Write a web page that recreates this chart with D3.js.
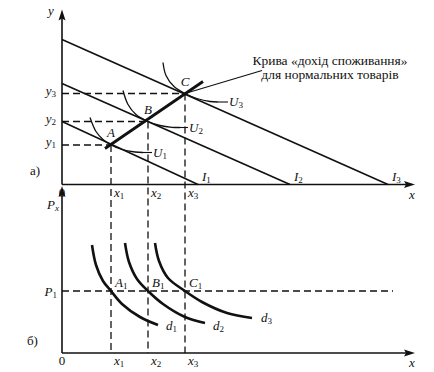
<!DOCTYPE html>
<html><head><meta charset="utf-8">
<script src="https://cdn.jsdelivr.net/npm/d3@7"></script>
<style>body{margin:0;background:#fff}svg{display:block}text{font-family:"Liberation Serif","Times New Roman","DejaVu Serif",serif}</style>
</head><body>
<svg id="c" width="434" height="372"></svg>
<script>
// ---- data (arbitrary schematic units) ----
const quantities = [4.9, 8.6, 12.3];          // x1, x2, x3
const quantitySubs = ["1", "2", "3"];
const incomeLevels = [3.95, 6.3, 9.1];        // y1, y2, y3
const budgetYIntercepts = [6.3, 10.1, 14.5];  // I1, I2, I3 on y-axis
const budgetXIntercepts = [13.6, 22.8, 32.6]; // I1, I2, I3 on x-axis
const optimumNames = ["A", "B", "C"];
const iccLine = [[4.3, 3.6], [14.1, 10.3]];
const iccNote = ["Крива «дохід споживання»", "для нормальних товарів"];
const iccNoteEnd = [20.0, 11.4];
const indiff1 = [[2.8,6.7],[3.4,5.3],[4.1,4.5],[4.9,3.95],[6.0,3.5],[7.3,3.25],[8.1,3.2]];
const indiff2 = [[6.1,9.4],[6.6,8.0],[7.4,7.0],[8.6,6.3],[9.8,5.9],[11.0,5.72],[11.8,5.7]];
const indiff3 = [[10.1,12.2],[10.4,10.9],[11.2,9.8],[12.3,9.1],[13.5,8.6],[14.8,8.3],[15.6,8.25]];
const indiffLeaderEnd = [9.0, 12.6, 16.6];
const price1 = 6.2;
const priceLineEnd = 33.1;
const demand1 = [[3.0,10.8],[3.4,8.8],[4.1,7.2],[4.9,6.2],[6.0,4.9],[7.8,3.6],[9.6,2.8]];
const demand2 = [[6.3,11.0],[6.7,9.1],[7.5,7.4],[8.6,6.2],[10.1,4.9],[12.3,3.6],[14.3,3.0]];
const demand3 = [[9.3,11.0],[9.7,9.2],[10.6,7.5],[12.3,6.2],[14.0,5.1],[16.5,4.0],[19.0,3.5]];
const demandLabelPos = [[10.4,2.6],[15.1,2.6],[19.9,3.4]];

// ---- scales ----
const x = d3.scaleLinear().domain([0, 35]).range([62, 412]);
const yT = d3.scaleLinear().domain([0, 17.2]).range([184.5, 12.5]);
const yB = d3.scaleLinear().domain([0, 15]).range([353, 203]);
const xMax = 35.3, yTMax = 17.5, yBMax = 16.7;

const svg = d3.select("#c");
const ink = "#111";

function line(g, x1, y1, x2, y2, w, dash) {
  const l = g.append("line").attr("x1", x1).attr("y1", y1).attr("x2", x2).attr("y2", y2)
    .attr("stroke", ink).attr("stroke-width", w);
  if (dash) l.attr("stroke-dasharray", dash);
  return l;
}
function label(px, py, main, sub, opts = {}) {
  const t = svg.append("text").attr("x", px).attr("y", py)
    .attr("font-size", opts.size || 13)
    .attr("fill", ink).attr("dominant-baseline", "middle")
    .attr("text-anchor", opts.anchor || "start");
  t.append("tspan").attr("font-style", opts.italic === false ? "normal" : "italic").text(main);
  if (sub) t.append("tspan").attr("font-size", 9).attr("dy", 3)
    .attr("font-style", opts.subItalic ? "italic" : "normal").text(sub);
  return t;
}
function arrowUp(px, tipY) {
  svg.append("path").attr("d", `M${px},${tipY} L${px-3.5},${tipY+11} L${px},${tipY+9} L${px+3.5},${tipY+11} Z`).attr("fill", ink);
}
function arrowRight(tipX, py) {
  svg.append("path").attr("d", `M${tipX},${py} L${tipX-11},${py-3.5} L${tipX-9},${py} L${tipX-11},${py+3.5} Z`).attr("fill", ink);
}
const curve = d3.line().x(d => x(d[0])).curve(d3.curveCatmullRom.alpha(0.5));

// ---- dashed guides ----
const gd = svg.append("g");
quantities.forEach((q, i) => {
  line(gd, x(q), yT(incomeLevels[i]), x(q), yB(0), 1.3, "7,4");
  line(gd, x(0), yT(incomeLevels[i]), x(q), yT(incomeLevels[i]), 1.3, "7,4");
});
line(gd, x(0), yB(price1), x(priceLineEnd), yB(price1), 1.3, "7,4");

// ---- axes ----
line(svg, x(0), yT(0), x(0), yT(yTMax) + 6, 1.6);
line(svg, x(0), yT(0), x(xMax) - 6, yT(0), 1.6);
arrowUp(x(0), yT(yTMax));
arrowRight(x(xMax), yT(0));
line(svg, x(0), yB(0), x(0), yB(yBMax) + 6, 1.6);
line(svg, x(0), yB(0), x(xMax) - 6, yB(0), 1.6);
arrowUp(x(0), yB(yBMax));
arrowRight(x(xMax), yB(0));

// ---- budget lines ----
budgetYIntercepts.forEach((b, i) => {
  line(svg, x(0), yT(b), x(budgetXIntercepts[i]), yT(0), 1.6);
  label(x(budgetXIntercepts[i]) + 4, yT(0) - 7, "I", String(i + 1));
});

// ---- indifference curves ----
const yLine = curve.y(d => yT(d[1]));
[indiff1, indiff2, indiff3].forEach((pts, i) => {
  svg.append("path").attr("d", yLine(pts)).attr("fill", "none").attr("stroke", ink).attr("stroke-width", 1.3);
  const last = pts[pts.length - 1];
  line(svg, x(last[0]), yT(last[1]), x(indiffLeaderEnd[i]), yT(last[1]), 1.1);
  label(x(indiffLeaderEnd[i]) + 1, yT(last[1]) + 1, "U", String(i + 1));
});

// ---- income-consumption curve ----
line(svg, x(iccLine[0][0]), yT(iccLine[0][1]), x(iccLine[1][0]), yT(iccLine[1][1]), 2.8);
line(svg, x(quantities[2]), yT(incomeLevels[2]), x(iccNoteEnd[0]), yT(iccNoteEnd[1]), 1.3);
label(330, 62, iccNote[0], null, {italic: false, anchor: "middle", size: 13.5});
label(330, 76, iccNote[1], null, {italic: false, anchor: "middle", size: 13.5});

// ---- point labels ----
quantities.forEach((q, i) => {
  label(x(q), yT(incomeLevels[i]) - 11, optimumNames[i], null, {anchor: "middle"});
  label(x(0) - 6, yT(incomeLevels[i]) - 2, "y", quantitySubs[i], {anchor: "end"});
  label(x(q) + 3, yT(0) + 9, "x", quantitySubs[i]);
  label(x(q) + 3, yB(0) + 9, "x", quantitySubs[i]);
  label(x(q) + 4, yB(price1) - 7, optimumNames[i], "1");
});

// ---- demand curves ----
const bLine = curve.y(d => yB(d[1]));
[demand1, demand2, demand3].forEach((pts, i) => {
  svg.append("path").attr("d", bLine(pts)).attr("fill", "none").attr("stroke", ink).attr("stroke-width", 2.6);
  label(x(demandLabelPos[i][0]), yB(demandLabelPos[i][1]), "d", quantitySubs[i]);
});

// ---- axis labels ----
label(x(0) - 11, 12, "y", null, {anchor: "middle"});
label(x(xMax) - 3, yT(0) + 11, "x", null, {anchor: "middle"});
label(x(0), yT(0) + 9, "0", null, {italic: false, anchor: "middle"});
label(x(0), yB(0) + 9, "0", null, {italic: false, anchor: "middle"});
label(x(xMax) - 3, yB(0) + 11, "x", null, {anchor: "middle"});
label(x(0) - 15, 206, "P", "x", {subItalic: true});
label(x(0) - 5, yB(price1) + 2, "P", "1", {anchor: "end"});
label(30, 172, "a)", null, {italic: false});
label(27, 342, "б)", null, {italic: false});
</script>
</body></html>
